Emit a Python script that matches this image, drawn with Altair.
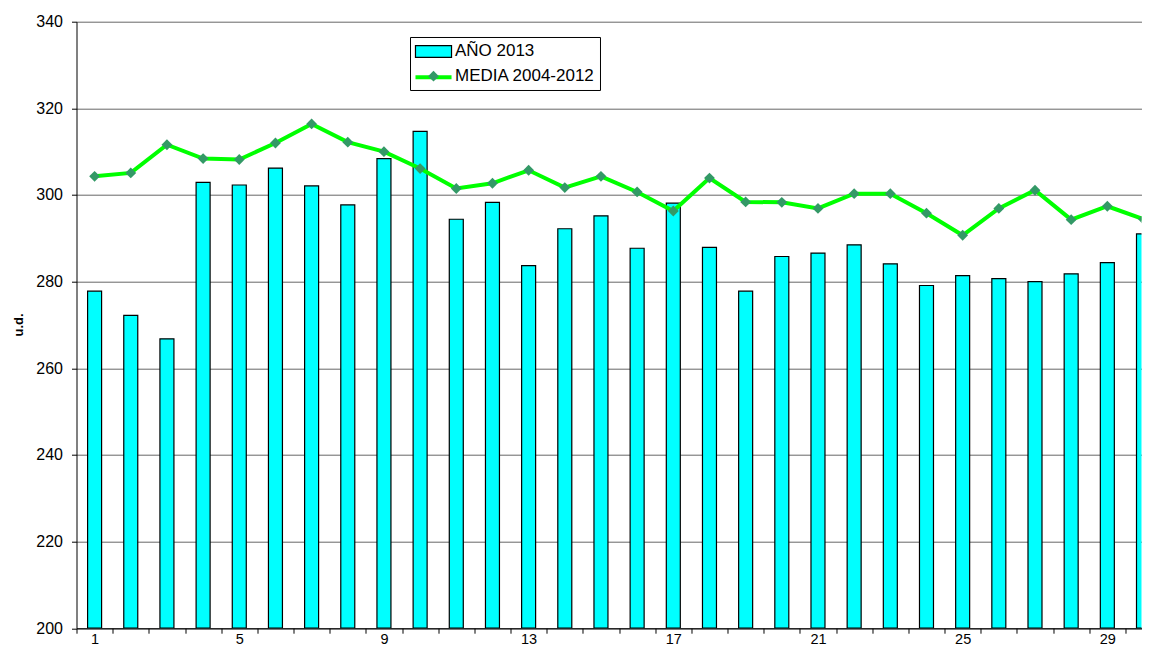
import json
import altair as alt
import pandas as pd

# ---------------- data ----------------
days = list(range(1, 31))
ano_2013 = [277.8, 272.2, 266.8, 302.9, 302.3, 306.2, 302.1, 297.7, 308.4, 314.7,
            294.4, 298.3, 283.7, 292.2, 295.2, 287.7, 298.1, 287.9, 277.8, 285.8,
            286.6, 288.5, 284.1, 279.1, 281.4, 280.7, 280.0, 281.8, 284.4, 291.0]
media_2004_2012 = [304.3, 305.1, 311.6, 308.4, 308.2, 312.0, 316.4, 312.2, 310.0, 306.1,
                   301.5, 302.7, 305.7, 301.7, 304.3, 300.7, 296.3, 303.9, 298.4, 298.3,
                   296.9, 300.3, 300.3, 295.8, 290.7, 296.9, 301.1, 294.3, 297.4, 294.4]
series_bar = "AÑO 2013"
series_line = "MEDIA 2004-2012"
y_ticks = [200, 220, 240, 260, 280, 300, 320, 340]
x_label_days = [1, 5, 9, 13, 17, 21, 25, 29]
y_title = "u.d."

bars_df = pd.DataFrame({"dia": days, "valor": ano_2013, "serie": series_bar})
line_df = pd.DataFrame({"dia": days, "valor": media_2004_2012, "serie": series_line})

# ---------------- layout / style ----------------
FONT = "Liberation Sans"
PAD_LEFT = 68.5
PAD_TOP = 13.7
W = 1065.0            # plot runs to the page edge; the last day is cut, as in the original
H = 606.5
PAD_BOTTOM = 19.0
STEP = 36.17          # pixels per day
x_max = 0.5 + W / STEP

CYAN = "#00FFFF"
GREEN = "#00FF00"
MARKER = "#339966"

RECT_PATH = "M-2.06,-0.67H2.06V0.67H-2.06Z"
STROKE_PATH = "M-2.06,0H2.06"
DIAMOND_PATH = "M0,-0.62L0.62,0L0,0.62L-0.62,0Z"
SYM_SIZE = 306.25

LEG_X = 333.5
LEG_Y = 15.3
ROW_STEP = 25.7

x_scale = alt.Scale(domain=[0.5, x_max], nice=False, zero=False, padding=0)
y_scale = alt.Scale(domain=[y_ticks[0], y_ticks[-1]], nice=False, zero=False, padding=0)

x_axis = alt.Axis(
    values=[d - 0.5 for d in days],
    labelExpr=f"indexof({json.dumps(x_label_days)}, datum.value + 0.5) >= 0 ? '' + (datum.value + 0.5) : ''",
    labelOffset=STEP / 2,
    labelOverlap=False,
    labelFlush=False,
    labelPadding=-0.5,
    labelFontSize=14.5,
    tickSize=5,
    grid=False,
    title=None,
)
y_axis = alt.Axis(
    values=y_ticks,
    grid=True,
    gridColor="#666666",
    gridWidth=1,
    tickSize=5,
    labelPadding=9,
    labelFontSize=16,
    title=y_title,
    titleFontSize=13,
    titleFontWeight="bold",
    titleX=-58.5,
    titleY=302.8,
    titleBaseline="middle",
    titleAngle=270,
)

main_legend = alt.Legend(
    orient="none",
    legendX=LEG_X,
    legendY=LEG_Y,
    title=None,
    direction="vertical",
    padding=5,
    symbolSize=SYM_SIZE,
    symbolStrokeWidth=1.2,
    symbolOffset=9,
    symbolOpacity=1,
    labelFontSize=17,
    labelOffset=12,
    rowPadding=6.7,
    strokeColor="black",
    zindex=2,
)

line_legend = alt.Legend(
    orient="none",
    legendX=LEG_X - 1.5,
    legendY=LEG_Y + ROW_STEP - 1.5,
    title=None,
    direction="vertical",
    padding=5,
    symbolType=STROKE_PATH,
    symbolSize=SYM_SIZE,
    symbolStrokeWidth=4,
    symbolOffset=9,
    symbolOpacity=1,
    labelFontSize=17,
    labelOffset=8,
    labelExpr="''",
    zindex=1,
)

series_domain = [series_bar, series_line]

bars = alt.Chart(bars_df).mark_bar(
    size=14, fill=CYAN, stroke="black", strokeWidth=1.2, clip=True
).encode(
    x=alt.X("dia:Q", scale=x_scale, axis=x_axis),
    y=alt.Y("valor:Q", scale=y_scale, axis=y_axis),
    y2=alt.datum(y_ticks[0]),
)

line = alt.Chart(line_df).mark_line(
    strokeWidth=4, clip=True
).encode(
    x=alt.X("dia:Q", scale=x_scale, axis=x_axis),
    y=alt.Y("valor:Q", scale=y_scale, axis=y_axis),
    color=alt.Color("serie:N",
                    scale=alt.Scale(domain=[series_line], range=[GREEN]),
                    legend=line_legend),
)

points = alt.Chart(line_df).mark_point(
    filled=True, size=SYM_SIZE, opacity=1, strokeWidth=1.2, clip=True
).encode(
    x=alt.X("dia:Q", scale=x_scale, axis=x_axis),
    y=alt.Y("valor:Q", scale=y_scale, axis=y_axis),
    fill=alt.Fill("serie:N",
                  scale=alt.Scale(domain=series_domain, range=[CYAN, MARKER]),
                  legend=main_legend),
    shape=alt.Shape("serie:N",
                    scale=alt.Scale(domain=series_domain, range=[RECT_PATH, DIAMOND_PATH]),
                    legend=main_legend),
    stroke=alt.Stroke("serie:N",
                      scale=alt.Scale(domain=series_domain, range=["black", "transparent"]),
                      legend=main_legend),
)

chart = alt.layer(bars, line, points).properties(
    width=W,
    height=H,
    autosize="none",
    padding={"left": PAD_LEFT, "top": PAD_TOP, "right": 0, "bottom": PAD_BOTTOM},
    background="white",
).configure_view(
    stroke=None
).configure_axis(
    labelFont=FONT,
    titleFont=FONT,
    labelColor="black",
    titleColor="black",
    domainColor="black",
    tickColor="black",
    domainWidth=1,
    tickWidth=1,
).configure_legend(
    labelFont=FONT,
    labelColor="black",
)

chart.save("out.html", embed_options={"renderer": "svg", "actions": False})
